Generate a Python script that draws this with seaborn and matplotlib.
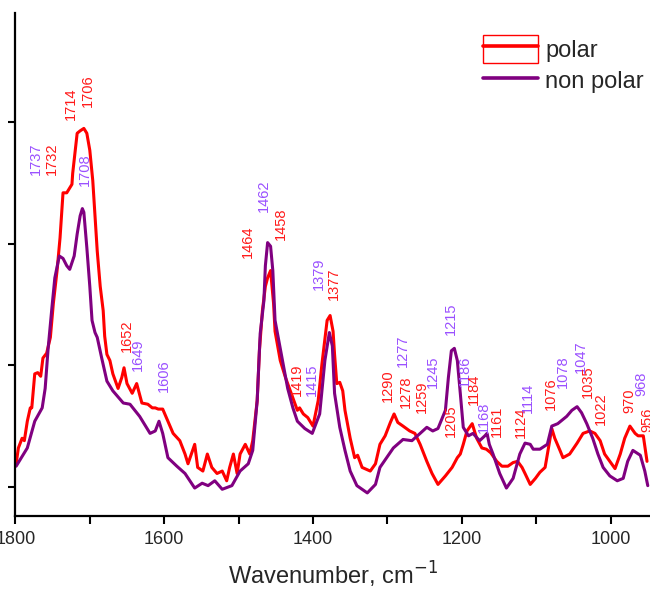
import numpy as np
import pandas as pd
import matplotlib
matplotlib.use("Agg")
import matplotlib.pyplot as plt
import matplotlib.patches as mpatches
from matplotlib.lines import Line2D
from matplotlib.legend_handler import HandlerTuple
import seaborn as sns

# ---------------- data ----------------
polar_wn = [1799, 1796, 1791, 1788, 1784, 1780, 1778, 1774, 1770, 1766, 1763, 1758, 1753, 1749,
            1744, 1740, 1736, 1731, 1727, 1724, 1723, 1717, 1713, 1708, 1704, 1700, 1696, 1693,
            1690, 1686, 1682, 1680, 1677, 1673, 1669, 1662, 1657, 1654, 1650, 1643, 1637, 1630,
            1622, 1616, 1612, 1608, 1602, 1595, 1588, 1579, 1572, 1568, 1559, 1555, 1548, 1542,
            1536, 1529, 1522, 1516, 1512, 1507, 1502, 1498, 1491, 1485, 1481, 1475, 1472, 1468,
            1464, 1461, 1457, 1453, 1451, 1444, 1437, 1427, 1421, 1418, 1413, 1407, 1400, 1393,
            1388, 1381, 1377, 1373, 1371, 1368, 1364, 1360, 1357, 1350, 1344, 1340, 1334, 1323,
            1316, 1310, 1303, 1296, 1291, 1286, 1279, 1270, 1263, 1256, 1247, 1240, 1232, 1222,
            1213, 1206, 1202, 1198, 1193, 1186, 1180, 1173, 1167, 1161, 1153, 1146, 1138, 1131,
            1125, 1119, 1115, 1108, 1101, 1095, 1088, 1084, 1079, 1075, 1068, 1064, 1055, 1045,
            1037, 1028, 1021, 1014, 1008, 1001, 994, 987, 981, 974, 967, 963, 956, 951]
polar_abs = [0.19, 0.32, 0.40, 0.38, 0.54, 0.65, 0.65, 0.93, 0.94, 0.91, 1.06, 1.10, 1.23, 1.51,
             1.78, 2.05, 2.42, 2.42, 2.46, 2.49, 2.58, 2.91, 2.93, 2.95, 2.91, 2.77, 2.52, 2.23,
             1.94, 1.65, 1.45, 1.24, 1.09, 1.04, 0.93, 0.81, 0.90, 0.98, 0.85, 0.77, 0.85, 0.69,
             0.68, 0.65, 0.65, 0.64, 0.64, 0.54, 0.44, 0.38, 0.27, 0.19, 0.35, 0.16, 0.13, 0.27,
             0.16, 0.11, 0.13, 0.05, 0.16, 0.27, 0.11, 0.27, 0.35, 0.27, 0.38, 0.71, 1.12, 1.45,
             1.65, 1.72, 1.78, 1.51, 1.28, 1.04, 0.90, 0.73, 0.63, 0.65, 0.60, 0.57, 0.50, 0.71,
             1.01, 1.37, 1.41, 1.28, 1.09, 0.85, 0.86, 0.79, 0.63, 0.40, 0.24, 0.26, 0.16, 0.13,
             0.19, 0.35, 0.42, 0.53, 0.60, 0.53, 0.50, 0.46, 0.44, 0.35, 0.21, 0.11, 0.02, 0.09,
             0.16, 0.24, 0.27, 0.35, 0.46, 0.52, 0.40, 0.32, 0.31, 0.28, 0.21, 0.17, 0.17, 0.20,
             0.21, 0.16, 0.11, 0.02, 0.07, 0.12, 0.16, 0.30, 0.48, 0.40, 0.30, 0.24, 0.27, 0.36,
             0.44, 0.46, 0.44, 0.38, 0.27, 0.21, 0.15, 0.27, 0.40, 0.50, 0.44, 0.42, 0.42, 0.21]

nonpolar_wn = [1799, 1784, 1774, 1764, 1760, 1756, 1751, 1747, 1741, 1736, 1731, 1727, 1721, 1717,
               1713, 1710, 1708, 1704, 1700, 1697, 1693, 1690, 1684, 1677, 1669, 1655, 1646, 1633,
               1619, 1612, 1607, 1602, 1595, 1583, 1572, 1559, 1549, 1541, 1532, 1522, 1509, 1498,
               1487, 1481, 1475, 1471, 1466, 1464, 1461, 1457, 1454, 1451, 1441, 1434, 1427, 1421,
               1411, 1401, 1391, 1384, 1378, 1374, 1371, 1364, 1357, 1350, 1341, 1327, 1316, 1310,
               1301, 1292, 1279, 1267, 1256, 1247, 1239, 1232, 1222, 1218, 1214, 1210, 1206, 1202,
               1198, 1191, 1185, 1176, 1169, 1166, 1163, 1158, 1149, 1140, 1131, 1122, 1115, 1108,
               1104, 1095, 1085, 1079, 1071, 1059, 1052, 1045, 1039, 1032, 1024, 1017, 1010, 1001,
               991, 983, 977, 970, 960, 954, 950]
nonpolar_abs = [0.17, 0.32, 0.54, 0.65, 0.81, 1.14, 1.47, 1.72, 1.90, 1.88, 1.82, 1.79, 1.90, 2.08,
                2.23, 2.29, 2.26, 1.97, 1.65, 1.37, 1.27, 1.23, 1.06, 0.87, 0.79, 0.69, 0.68, 0.58,
                0.44, 0.46, 0.54, 0.44, 0.24, 0.17, 0.11, -0.01, 0.03, 0.01, 0.05, -0.02, 0.01, 0.13,
                0.19, 0.30, 0.71, 1.26, 1.53, 1.82, 2.01, 1.98, 1.78, 1.37, 1.04, 0.81, 0.65, 0.54,
                0.48, 0.44, 0.60, 1.04, 1.27, 1.16, 0.77, 0.49, 0.30, 0.13, 0.01, -0.05, 0.02, 0.16,
                0.24, 0.32, 0.39, 0.38, 0.44, 0.49, 0.46, 0.48, 0.63, 0.90, 1.12, 1.14, 1.04, 0.77,
                0.49, 0.42, 0.44, 0.38, 0.42, 0.44, 0.35, 0.27, 0.11, -0.01, 0.07, 0.27, 0.36, 0.35,
                0.31, 0.31, 0.35, 0.50, 0.52, 0.58, 0.63, 0.66, 0.61, 0.52, 0.40, 0.27, 0.16, 0.09,
                0.05, 0.07, 0.21, 0.30, 0.26, 0.13, 0.01]

# peak annotations: text, wavenumber position, intensity of text bottom, series
peak_labels = ["1737", "1732", "1714", "1706", "1708", "1652", "1649", "1606", "1464", "1462",
               "1458", "1419", "1415", "1379", "1377", "1290", "1277", "1278", "1259", "1245",
               "1215", "1205", "1186", "1184", "1168", "1161", "1124", "1114", "1076", "1078",
               "1047", "1035", "1022", "970", "968", "956"]
peak_wn = [1772, 1751, 1725, 1702, 1706, 1650, 1635, 1600, 1487, 1466,
           1443, 1421, 1401, 1392, 1372, 1299, 1279, 1275, 1253, 1239,
           1214, 1214, 1196, 1184, 1170, 1153, 1120, 1111, 1080, 1064,
           1040, 1030, 1013, 975, 958, 951]
peak_y = [2.57, 2.57, 3.02, 3.13, 2.48, 1.11, 0.95, 0.78, 1.88, 2.26,
          2.03, 0.75, 0.75, 1.62, 1.54, 0.70, 0.99, 0.65, 0.61, 0.81,
          1.25, 0.41, 0.82, 0.67, 0.44, 0.41, 0.40, 0.61, 0.63, 0.81,
          0.94, 0.73, 0.51, 0.61, 0.75, 0.45]
peak_series = ["non polar", "polar", "polar", "polar", "non polar", "polar", "non polar", "non polar",
               "polar", "non polar", "polar", "polar", "non polar", "non polar", "polar", "polar",
               "non polar", "polar", "polar", "non polar", "non polar", "polar", "non polar", "polar",
               "non polar", "polar", "polar", "non polar", "polar", "non polar", "non polar", "polar",
               "polar", "polar", "non polar", "polar"]

xticks = [1800, 1600, 1400, 1200, 1000]

# ---------------- styling ----------------
sns.set_theme(style="ticks")
plt.rcParams["font.family"] = ["Liberation Sans", "DejaVu Sans"]

line_colors = {"polar": "#FF0000", "non polar": "#800080"}
text_colors = {"polar": "#FF1A1A", "non polar": "#9A50FF"}

df = pd.concat([
    pd.DataFrame({"wavenumber": polar_wn, "absorbance": polar_abs, "sample": "polar"}),
    pd.DataFrame({"wavenumber": nonpolar_wn, "absorbance": nonpolar_abs, "sample": "non polar"}),
], ignore_index=True)

fig = plt.figure(figsize=(6.5, 5.9), dpi=100)
ax = fig.add_axes([0.0237, 0.1254, 0.9763, 0.8526])

sns.lineplot(data=df, x="wavenumber", y="absorbance", hue="sample",
             hue_order=["polar", "non polar"], palette=line_colors,
             sort=False, linewidth=2.2, legend=False, ax=ax)

ax.set_xlim(1800, 947)
ax.set_ylim(-0.24, 3.90)
ax.set_xticks(xticks)
ax.set_xticks([1700, 1500, 1300, 1100], minor=True)
ax.set_yticks([0, 1, 2, 3])
ax.set_yticklabels([])
ax.set_ylabel("")
ax.set_xlabel("Wavenumber, cm$^{-1}$", fontsize=17, labelpad=8)
ax.tick_params(axis="x", which="both", direction="out", length=6, width=1.5,
               labelsize=13, pad=5, color="black")
ax.tick_params(axis="y", which="both", direction="out", length=5, width=1.5, color="black")
for side in ["top", "right"]:
    ax.spines[side].set_visible(False)
for side in ["left", "bottom"]:
    ax.spines[side].set_linewidth(1.6)
    ax.spines[side].set_color("black")

for txt, wn, yv, s in zip(peak_labels, peak_wn, peak_y, peak_series):
    ax.text(wn, yv, txt, rotation=90, ha="center", va="bottom",
            fontsize=10.5, color=text_colors[s], clip_on=False)

# legend (Origin style: boxed handle for polar)
box = mpatches.Rectangle((0, 0), 1, 1, facecolor="none", edgecolor="#FF0000", linewidth=1.0)
l_polar = Line2D([], [], color="#FF0000", linewidth=2.6)
l_np = Line2D([], [], color="#800080", linewidth=2.6)
fig.legend(handles=[(box, l_polar), l_np], labels=["polar", "non polar"],
           handler_map={tuple: HandlerTuple(ndivide=1)},
           loc="upper left", bbox_to_anchor=(483 / 650, 1 - 35 / 590),
           bbox_transform=fig.transFigure, frameon=False, fontsize=17,
           handlelength=2.33, handleheight=1.45, handletextpad=0.3,
           labelspacing=0.15, borderpad=0, borderaxespad=0)

fig.savefig("out.png", dpi=100)
